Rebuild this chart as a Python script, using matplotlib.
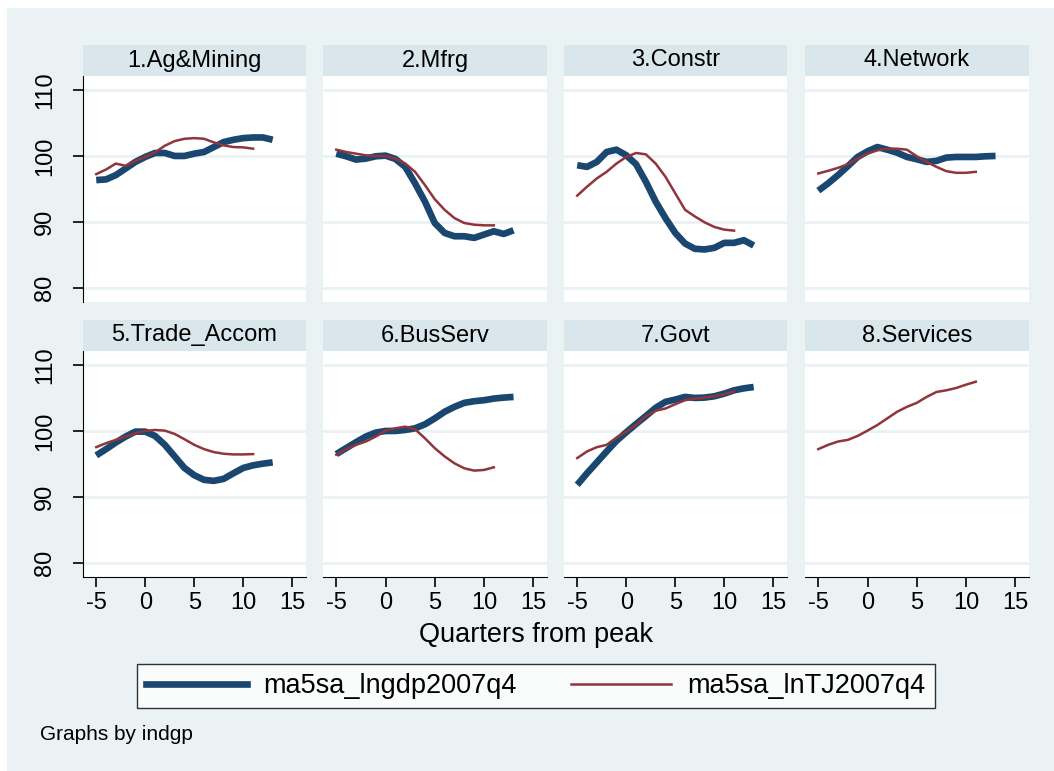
import matplotlib.pyplot as plt
import matplotlib.transforms as mtransforms
from matplotlib.lines import Line2D
from matplotlib.patches import Rectangle

plt.rcParams['font.family'] = ['Liberation Sans', 'DejaVu Sans']
plt.rcParams['axes.unicode_minus'] = False

# quarters from peak
q_gdp = list(range(-5, 14))
q_tj = list(range(-5, 12))

# ma5sa_lngdp2007q4 (thick blue) per industry group
gdp_ag = [96.35, 96.45, 97.1, 98.1, 99.1, 99.85, 100.45, 100.45, 100.0, 100.0,
          100.35, 100.6, 101.35, 102.1, 102.45, 102.7, 102.8, 102.8, 102.45]
gdp_mfrg = [100.35, 99.95, 99.45, 99.6, 99.95, 100.05, 99.55, 98.35, 95.85, 93.1,
            89.85, 88.35, 87.85, 87.85, 87.6, 88.1, 88.6, 88.2, 88.75]
gdp_constr = [98.6, 98.35, 99.1, 100.6, 100.95, 100.1, 98.75, 96.1, 93.1, 90.6,
              88.35, 86.75, 85.95, 85.85, 86.1, 86.85, 86.85, 87.25, 86.45]
gdp_network = [94.75, 95.85, 97.1, 98.45, 99.85, 100.7, 101.35, 100.95, 100.5, 99.85,
               99.5, 99.1, 99.25, 99.75, 99.85, 99.85, 99.85, 99.95, 100.0]
gdp_trade = [96.3, 97.25, 98.25, 99.15, 99.9, 99.9, 99.25, 97.9, 96.15, 94.4,
             93.3, 92.6, 92.45, 92.75, 93.6, 94.4, 94.8, 95.05, 95.25]
gdp_bus = [96.5, 97.4, 98.3, 99.15, 99.75, 100.0, 100.0, 100.15, 100.4, 101.0,
           101.9, 102.9, 103.65, 104.25, 104.5, 104.65, 104.9, 105.05, 105.15]
gdp_govt = [91.85, 93.6, 95.25, 96.9, 98.5, 99.8, 101.05, 102.25, 103.5, 104.4,
            104.75, 105.15, 105.0, 105.05, 105.25, 105.65, 106.15, 106.45, 106.65]

# ma5sa_lnTJ2007q4 (thin red) per industry group
tj_ag = [97.25, 97.95, 98.85, 98.5, 99.25, 99.85, 100.55, 101.55, 102.25, 102.6,
         102.7, 102.6, 102.05, 101.6, 101.35, 101.3, 101.1]
tj_mfrg = [100.95, 100.6, 100.35, 100.1, 100.0, 100.0, 99.6, 98.85, 97.6, 95.6,
           93.45, 91.85, 90.6, 89.85, 89.6, 89.5, 89.5]
tj_constr = [94.0, 95.35, 96.6, 97.6, 98.85, 99.85, 100.45, 100.25, 98.85, 96.85,
             94.35, 91.85, 90.85, 89.95, 89.25, 88.85, 88.7]
tj_network = [97.35, 97.75, 98.2, 98.75, 99.6, 100.35, 100.85, 101.1, 101.1, 100.95,
              99.95, 99.1, 98.35, 97.7, 97.45, 97.45, 97.6]
tj_trade = [97.55, 98.15, 98.65, 99.15, 99.65, 100.0, 100.15, 100.05, 99.55, 98.75,
            97.9, 97.25, 96.8, 96.55, 96.45, 96.45, 96.5]
tj_bus = [96.4, 97.25, 97.9, 98.4, 99.15, 100.05, 100.4, 100.65, 100.25, 98.9,
          97.4, 96.15, 95.1, 94.35, 94.0, 94.1, 94.5]
tj_govt = [95.9, 96.9, 97.55, 97.9, 99.0, 99.9, 100.9, 102.25, 103.05, 103.4,
           104.05, 104.65, 104.9, 105.05, 105.25, 105.55, 106.0]
tj_serv = [97.25, 97.9, 98.4, 98.65, 99.25, 100.05, 100.9, 101.9, 102.9, 103.65,
           104.25, 105.15, 105.9, 106.15, 106.5, 107.0, 107.45]

titles = ["1.Ag&Mining", "2.Mfrg", "3.Constr", "4.Network",
          "5.Trade_Accom", "6.BusServ", "7.Govt", "8.Services"]
gdp_series = [gdp_ag, gdp_mfrg, gdp_constr, gdp_network,
              gdp_trade, gdp_bus, gdp_govt, None]
tj_series = [tj_ag, tj_mfrg, tj_constr, tj_network,
             tj_trade, tj_bus, tj_govt, tj_serv]
y_ticks = [80, 90, 100, 110]
x_ticks = [-5, 0, 5, 10, 15]

BG = "#EAF2F3"
STRIP = "#D9E6EB"
BLUE = "#1A476F"
RED = "#90353B"

W, H = 1054, 771
fig = plt.figure(figsize=(W / 100, H / 100), dpi=100, facecolor="white")
fig.patches.append(Rectangle((7 / W, 0), 1, 1 - 8 / H, transform=fig.transFigure,
                             facecolor=BG, edgecolor="none", zorder=-10))


def px_axes(x0, y0, x1, y1):
    return fig.add_axes([x0 / W, 1 - y1 / H, (x1 - x0) / W, (y1 - y0) / H])


cols = [(83, 306), (323, 547), (564, 787), (805, 1029)]
rows = [(45, 76, 302), (320, 351, 577)]

for i, title in enumerate(titles):
    r, c = divmod(i, 4)
    x0, x1 = cols[c]
    st, pt, pb = rows[r]

    # strip header
    sax = px_axes(x0, st, x1, pt)
    sax.set_facecolor(STRIP)
    sax.set_xticks([])
    sax.set_yticks([])
    for s in sax.spines.values():
        s.set_visible(False)
    sax.text(0.5, 0.5, title, ha="center", va="center", fontsize=17,
             transform=sax.transAxes)

    ax = px_axes(x0, pt, x1, pb)
    ax.set_facecolor("white")
    ax.set_xlim(-6.35, 16.4)
    ax.set_ylim(77.9, 112.1)
    ax.set_yticks(y_ticks)
    ax.set_xticks(x_ticks)
    ax.grid(axis="y", color=BG, linewidth=2)
    ax.set_axisbelow(True)
    for s in ["top", "right"]:
        ax.spines[s].set_visible(False)
    ax.spines["left"].set_visible(c == 0)
    ax.spines["bottom"].set_visible(r == 1)
    ax.tick_params(axis="y", left=(c == 0), labelleft=False, length=7,
                   width=1.2)
    ax.tick_params(axis="x", bottom=(r == 1), labelbottom=(r == 1), length=7,
                   width=1.2, labelsize=17, pad=4)

    # Stata style vertical y labels, set well away from the axis
    if c == 0:
        trans = mtransforms.blended_transform_factory(fig.transFigure, ax.transData)
        for v in y_ticks:
            ax.text(45 / W, v, str(v), transform=trans, rotation=90,
                    ha="center", va="center", fontsize=17)

    if gdp_series[i] is not None:
        ax.plot(q_gdp, gdp_series[i], color=BLUE, linewidth=4.8,
                solid_capstyle="butt", solid_joinstyle="round")
    ax.plot(q_tj, tj_series[i], color=RED, linewidth=1.8)

fig.text(536 / W, 1 - 635 / H, "Quarters from peak", ha="center", va="center",
         fontsize=19.5)

handles = [Line2D([], [], color=BLUE, linewidth=4.8),
           Line2D([], [], color=RED, linewidth=1.8)]
leg = fig.legend(handles, ["ma5sa_lngdp2007q4", "ma5sa_lnTJ2007q4"],
                 loc="center", ncol=2, mode="expand",
                 bbox_to_anchor=(137 / W, 1 - 711 / H, 798 / W, 50 / H),
                 fontsize=19.5, handlelength=3.7, handletextpad=0.6,
                 columnspacing=1.6, frameon=True, fancybox=False,
                 borderpad=0.35, borderaxespad=0)
leg.get_frame().set_edgecolor("black")
leg.get_frame().set_linewidth(1.0)
leg.get_frame().set_facecolor("white")

fig.text(40 / W, 1 - 735 / H, "Graphs by indgp", ha="left", va="center",
         fontsize=15)

fig.savefig("out.png", dpi=100, facecolor=fig.get_facecolor())
